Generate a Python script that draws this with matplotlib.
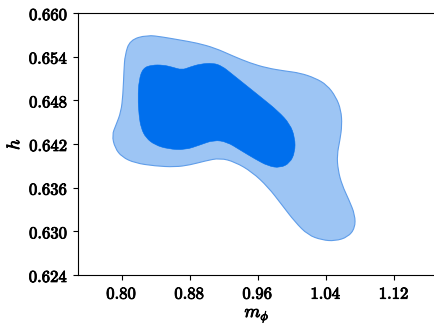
import numpy as np
import matplotlib
matplotlib.use("Agg")
import matplotlib.pyplot as plt
import matplotlib.patheffects as pe
from matplotlib.path import Path
from matplotlib.patches import PathPatch

# 95% contour of (m_phi, h)
outer_m = [0.8097, 0.8297, 0.8485, 0.8685, 0.8885, 0.9096, 0.9307, 0.9507,
           0.9707, 0.9918, 1.0094, 1.0271, 1.0412, 1.0517, 1.0576, 1.0588,
           1.0564, 1.0529, 1.0541, 1.0588, 1.0670, 1.0741, 1.0741, 1.0658,
           1.0506, 1.0353, 1.0188, 1.0036, 0.9883, 0.9719, 0.9531, 0.9331,
           0.9155, 0.8979, 0.8802, 0.8626, 0.8391, 0.8156, 0.8004, 0.7921,
           0.7886, 0.7933, 0.7992, 0.8015, 0.8027, 0.8039]
outer_h = [0.65629, 0.65698, 0.65670, 0.65629, 0.65588, 0.65519, 0.65409, 0.65313,
           0.65244, 0.65203, 0.65176, 0.65107, 0.65011, 0.64846, 0.64667, 0.64461,
           0.64255, 0.64049, 0.63843, 0.63637, 0.63431, 0.63225, 0.63046, 0.62922,
           0.62867, 0.62881, 0.62950, 0.63129, 0.63362, 0.63610, 0.63816, 0.63953,
           0.64008, 0.63967, 0.63912, 0.63884, 0.63898, 0.63939, 0.64021, 0.64145,
           0.64322, 0.64461, 0.64640, 0.64874, 0.65217, 0.65423]

# 68% contour
inner_m = [0.8250, 0.8356, 0.8485, 0.8591, 0.8708, 0.8802, 0.8920, 0.9072,
           0.9178, 0.9296, 0.9472, 0.9648, 0.9836, 0.9977, 1.0036, 1.0036,
           0.9977, 0.9860, 0.9719, 0.9566, 0.9390, 0.9237, 0.9084, 0.8920,
           0.8744, 0.8544, 0.8391, 0.8285, 0.8227, 0.8203, 0.8191, 0.8203]
inner_h = [0.65244, 0.65286, 0.65286, 0.65258, 0.65217, 0.65258, 0.65299, 0.65313,
           0.65272, 0.65162, 0.64997, 0.64832, 0.64653, 0.64475, 0.64283, 0.64090,
           0.63939, 0.63871, 0.63898, 0.63994, 0.64118, 0.64228, 0.64255, 0.64187,
           0.64118, 0.64132, 0.64187, 0.64283, 0.64420, 0.64599, 0.64832, 0.65079]

xticks = [0.80, 0.88, 0.96, 1.04, 1.12]
yticks = [0.624, 0.630, 0.636, 0.642, 0.648, 0.654, 0.660]


def smooth_closed(xs, ys):
    # quadratic bezier through edge midpoints, outline vertices as control points
    pts = np.column_stack([xs, ys])
    n = len(pts)
    mids = (pts + np.roll(pts, -1, axis=0)) / 2
    verts = [mids[-1]]
    codes = [Path.MOVETO]
    for i in range(n):
        verts += [pts[i], mids[i]]
        codes += [Path.CURVE3, Path.CURVE3]
    verts.append(mids[-1])
    codes.append(Path.CLOSEPOLY)
    return Path(verts, codes)


plt.rcParams["mathtext.fontset"] = "cm"
heavy = [pe.withStroke(linewidth=0.6, foreground="black")]

fig = plt.figure(figsize=(4.35, 3.27), dpi=100)
ax = fig.add_axes([0.1793, 0.159, 0.823, 0.8012])

ax.add_patch(PathPatch(smooth_closed(outer_m, outer_h), facecolor="#9dc5f4",
                       edgecolor="#5f9de9", linewidth=0.8))
ax.add_patch(PathPatch(smooth_closed(inner_m, inner_h), facecolor="#006fed",
                       edgecolor="#006fed", linewidth=0.4))

ax.set_xlim(0.7487, 1.1692)
ax.set_ylim(0.624, 0.660)
ax.set_xticks(xticks)
ax.set_xticklabels([r"$%.2f$" % v for v in xticks], fontsize=12)
ax.set_yticks(yticks)
ax.set_yticklabels([r"$%.3f$" % v for v in yticks], fontsize=12)
ax.set_xlabel(r"$m_\phi$", fontsize=13, labelpad=3)
ax.set_ylabel(r"$h$", fontsize=13, labelpad=4)
for t in ax.get_xticklabels() + ax.get_yticklabels() + [ax.xaxis.label, ax.yaxis.label]:
    t.set_path_effects(heavy)

fig.savefig("out.png", dpi=100)
plt.close(fig)
